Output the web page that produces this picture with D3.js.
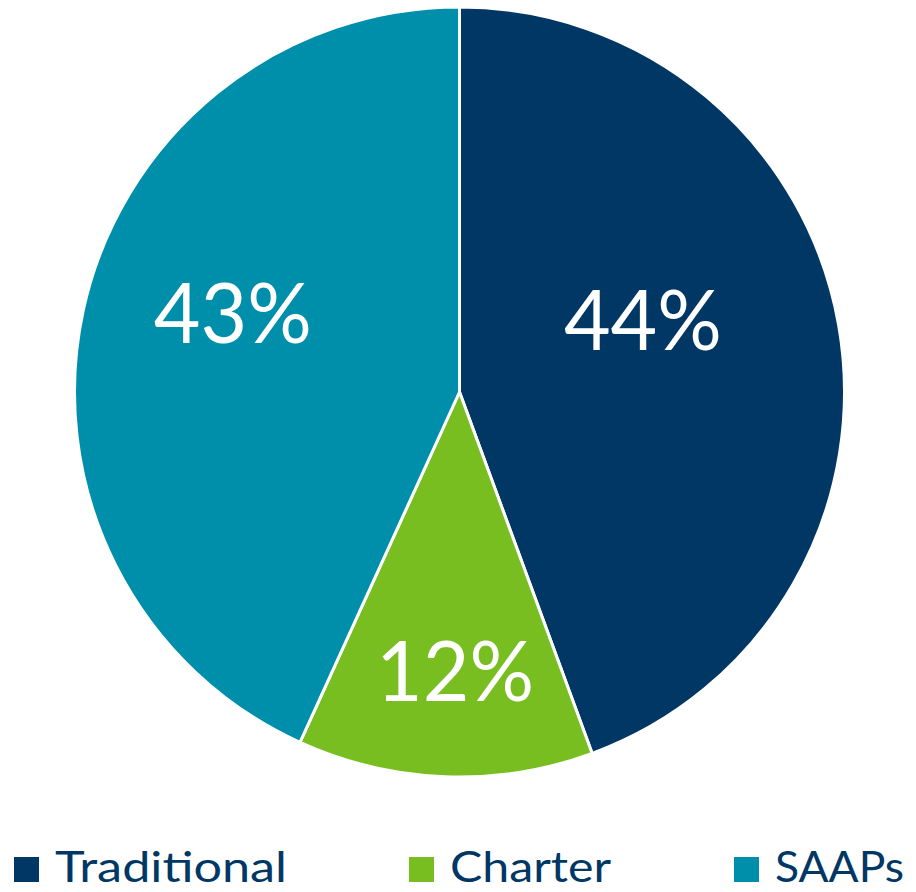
<!DOCTYPE html>
<html><head><meta charset="utf-8">
<script src="https://cdn.jsdelivr.net/npm/d3@7"></script>
<style>html,body{margin:0;padding:0;background:#fff}svg{display:block}</style>
</head><body>
<script>
const categories = ["Traditional", "Charter", "SAAPs"];
const values = [44.4, 12.4, 43.2];
const labels = ["44%", "12%", "43%"];
const colors = ["#003764", "#78BE21", "#008FAA"];

const W = 916, H = 892;
const cx = 459.5, cy = 392, R = 385;
const svg = d3.select("body").append("svg").attr("width", W).attr("height", H);
const font = "Lato, 'Open Sans', sans-serif";

const pie = d3.pie().sort(null).value(d => d.v);
const data = categories.map((c, i) => ({c, v: values[i], label: labels[i], color: colors[i]}));
const arcs = pie(data);
const arc = d3.arc().innerRadius(0).outerRadius(R);

const g = svg.append("g").attr("transform", `translate(${cx},${cy})`);
g.selectAll("path").data(arcs).join("path")
  .attr("d", arc).attr("fill", d => d.data.color)
  .attr("stroke", "#fff").attr("stroke-width", 3).attr("stroke-linejoin", "round");

// label placement (polar, relative to pie) mimicking best-fit layout
const labelPolar = [[68.6, 197], [180.9, 279], [289.2, 240]];
g.selectAll("text.lbl").data(arcs).join("text").attr("class", "lbl")
  .attr("x", (d, i) => Math.sin(labelPolar[i][0] * Math.PI / 180) * labelPolar[i][1])
  .attr("y", (d, i) => -Math.cos(labelPolar[i][0] * Math.PI / 180) * labelPolar[i][1] + 30)
  .attr("text-anchor", "middle")
  .attr("font-family", font).attr("font-size", 83).attr("fill", "#fff")
  .text(d => d.data.label)
  .each(function(){ this.setAttribute("textLength", 158); this.setAttribute("lengthAdjust", "spacingAndGlyphs"); });

// legend
const legX = [14, 409, 734];
const legTextW = [232, 161, 129];
const leg = svg.append("g");
data.forEach((d, i) => {
  leg.append("rect").attr("x", legX[i]).attr("y", 857).attr("width", 25).attr("height", 25).attr("fill", d.color);
  leg.append("text").attr("x", legX[i] + 41).attr("y", 882)
    .attr("font-family", font).attr("font-size", 42).attr("fill", "#003764")
    .attr("textLength", legTextW[i]).attr("lengthAdjust", "spacingAndGlyphs")
    .text(d.c);
});
</script>
</body></html>
